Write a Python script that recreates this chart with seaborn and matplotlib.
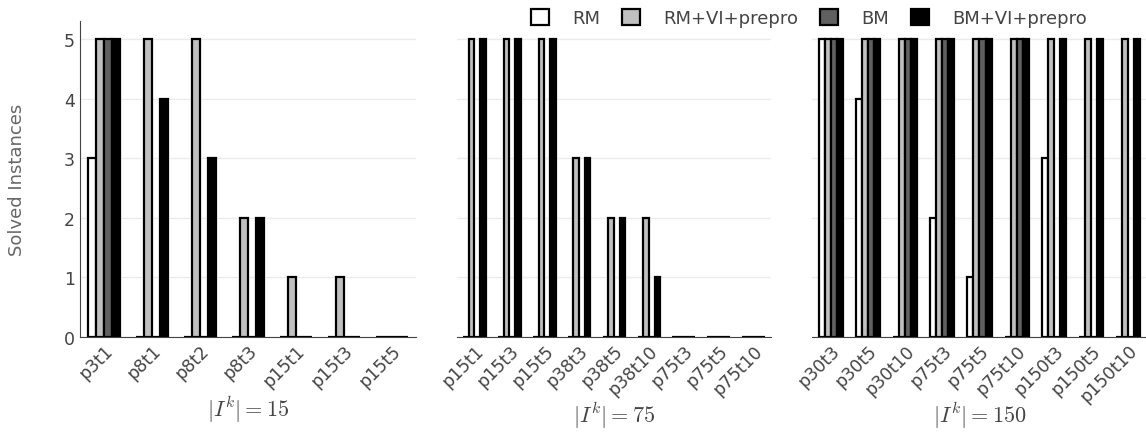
import pandas as pd
import seaborn as sns
import matplotlib.pyplot as plt
from matplotlib.patches import Patch

methods = ['RM', 'RM+VI+prepro', 'BM', 'BM+VI+prepro']
colors = ['white', '#c0c0c0', '#606060', 'black']

# |I^k| = 15
inst_15 = ['p3t1', 'p8t1', 'p8t2', 'p8t3', 'p15t1', 'p15t3', 'p15t5']
rm_15 = [3, 0, 0, 0, 0, 0, 0]
rmvi_15 = [5, 5, 5, 2, 1, 1, 0]
bm_15 = [5, 0, 0, 0, 0, 0, 0]
bmvi_15 = [5, 4, 3, 2, 0, 0, 0]

# |I^k| = 75
inst_75 = ['p15t1', 'p15t3', 'p15t5', 'p38t3', 'p38t5', 'p38t10', 'p75t3', 'p75t5', 'p75t10']
rm_75 = [0, 0, 0, 0, 0, 0, 0, 0, 0]
rmvi_75 = [5, 5, 5, 3, 2, 2, 0, 0, 0]
bm_75 = [0, 0, 0, 0, 0, 0, 0, 0, 0]
bmvi_75 = [5, 5, 5, 3, 2, 1, 0, 0, 0]

# |I^k| = 150
inst_150 = ['p30t3', 'p30t5', 'p30t10', 'p75t3', 'p75t5', 'p75t10', 'p150t3', 'p150t5', 'p150t10']
rm_150 = [5, 4, 0, 2, 1, 0, 3, 0, 0]
rmvi_150 = [5, 5, 5, 5, 5, 5, 5, 5, 5]
bm_150 = [5, 5, 5, 5, 5, 5, 0, 0, 0]
bmvi_150 = [5, 5, 5, 5, 5, 5, 5, 5, 5]

titles = [r'$|I^k| = 15$', r'$|I^k| = 75$', r'$|I^k| = 150$']


def long_df(inst, series):
    rows = []
    for m, vals in zip(methods, series):
        for i, v in zip(inst, vals):
            rows.append({'instance': i, 'method': m, 'solved': v})
    return pd.DataFrame(rows)


panels = [
    long_df(inst_15, [rm_15, rmvi_15, bm_15, bmvi_15]),
    long_df(inst_75, [rm_75, rmvi_75, bm_75, bmvi_75]),
    long_df(inst_150, [rm_150, rmvi_150, bm_150, bmvi_150]),
]

plt.rcParams['mathtext.fontset'] = 'cm'
W, H = 1146, 435
fig = plt.figure(figsize=(W / 100, H / 100), dpi=100)

# pixel boxes (left, right) of each panel; y from 338 (zero) to 22 (top)
boxes = [(80, 416), (457, 771), (812, 1147)]
title_y = [410, 416, 416]
txt = '#444444'

for k, (df, (x0, x1)) in enumerate(zip(panels, boxes)):
    ax = fig.add_axes([x0 / W, 1 - 338 / H, (x1 - x0) / W, 316 / H])
    sns.barplot(data=df, x='instance', y='solved', hue='method', hue_order=methods,
                palette=colors, saturation=1, width=0.65, edgecolor='black',
                linewidth=1.6, errorbar=None, legend=False, ax=ax)
    ax.set_ylim(0, 5.3)
    ax.set_yticks(range(6))
    ax.yaxis.grid(True, color='#ebebeb', linewidth=1)
    ax.set_axisbelow(True)
    for s in ['top', 'right']:
        ax.spines[s].set_visible(False)
    ax.spines['bottom'].set_color('#444444')
    ax.tick_params(length=0, colors=txt, labelsize=12.5)
    ax.tick_params(axis='x', pad=3)
    ax.set_xticks(range(len(df['instance'].unique())))
    ax.set_xticklabels(df['instance'].unique(), rotation=45, ha='right',
                       rotation_mode='anchor')
    ax.set_xlabel('')
    fig.text((x0 + x1) / 2 / W, 1 - title_y[k] / H, titles[k], fontsize=16,
             color='#444444', ha='center', va='center')
    if k == 0:
        ax.spines['left'].set_color('#444444')
        ax.set_ylabel('Solved Instances', fontsize=13, color='#666666')
        ax.yaxis.set_label_coords(-54 / (x1 - x0), 0.5)
    else:
        ax.spines['left'].set_visible(False)
        ax.set_yticklabels([])
        ax.set_ylabel('')

handles = [Patch(facecolor=c, edgecolor='black', linewidth=1.6) for c in colors]
fig.legend(handles, methods, loc='upper center', bbox_to_anchor=(809 / W, 1.015),
           ncol=4, frameon=False, fontsize=13, handlelength=1.0, handleheight=1.0,
           columnspacing=1.2, handletextpad=1.3, labelcolor=txt)

fig.savefig('out.png', dpi=100)
